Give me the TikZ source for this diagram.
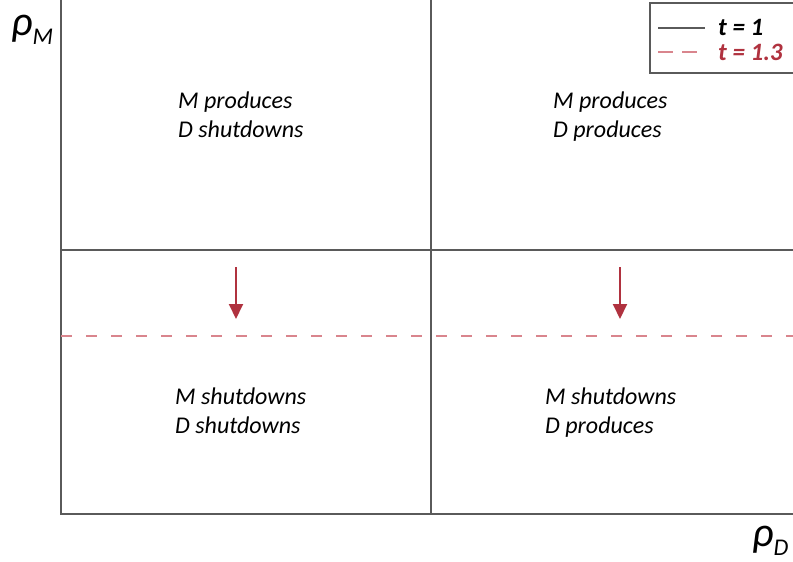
\documentclass[tikz,border=0pt]{standalone}
\usepackage{fontspec}
\setmainfont{Carlito}
\usetikzlibrary{arrows.meta}
\definecolor{axisgray}{HTML}{5A5A5A}
\definecolor{arrred}{HTML}{B0323F}
\definecolor{dashred}{HTML}{D9858D}
\begin{document}
\begin{tikzpicture}[x=1pt,y=-1pt,
  axisline/.style={draw=axisgray,line width=2pt},
  gridline/.style={draw=axisgray,line width=1.5pt},
  dashline/.style={draw=dashred,line width=2pt,dash pattern=on 11pt off 14pt},
  region/.style={font=\fontsize{24}{29}\selectfont\itshape,align=left,anchor=north west,inner sep=0pt},
  shiftarrow/.style={draw=arrred,line width=2pt,-{Triangle[length=15pt,width=14pt]}},
  axislabel/.style={font=\fontsize{42}{42}\selectfont\itshape,inner sep=0pt,anchor=base west},
  legtext/.style={font=\fontsize{25}{25}\selectfont\bfseries\itshape,anchor=west,inner sep=0pt}]
\useasboundingbox (0,0) rectangle (793,562);
% axes
\coordinate (O) at (61,514);
\coordinate (Ytop) at (61,0);
\coordinate (Xend) at (793,514);
\draw[axisline] (Ytop) -- (O) -- (Xend);
% grid lines
\coordinate (Vtop) at (431,0);
\coordinate (Vbot) at (431,514);
\draw[gridline] (Vtop) -- (Vbot);
\coordinate (Hl) at (61,250);
\coordinate (Hr) at (793,250);
\draw[gridline] (Hl) -- (Hr);
\coordinate (Dl) at (61,336);
\coordinate (Dr) at (793,336);
\draw[dashline] (Dl) -- (Dr);
% arrows
\coordinate (A1s) at (236,267);
\coordinate (A1e) at (236,319);
\coordinate (A2s) at (620,267);
\coordinate (A2e) at (620,319);
\draw[shiftarrow] (A1s) -- (A1e);
\draw[shiftarrow] (A2s) -- (A2e);
% region labels
\node[region] (r1) at (178,92) {M produces\\D shutdowns};
\node[region] (r2) at (553,92) {M produces\\D produces};
\node[region] (r3) at (175,388) {M shutdowns\\D shutdowns};
\node[region] (r4) at (545,388) {M shutdowns\\D produces};
% axis labels
\node[axislabel] (ym) at (11,35) {ρ\raisebox{-9pt}{\fontsize{24}{24}\selectfont M}};
\node[axislabel] (xd) at (752,546) {ρ\raisebox{-9pt}{\fontsize{24}{24}\selectfont D}};
% legend
\node[draw=axisgray,line width=2pt,minimum width=144pt,minimum height=70pt,anchor=north west,inner sep=0pt] (leg) at (649,2) {};
\coordinate (L1a) at (658,28);
\coordinate (L1b) at (705,28);
\draw[draw=axisgray,line width=1.5pt] (L1a) -- (L1b);
\coordinate (L2a) at (658,52);
\coordinate (L2b) at (705,52);
\draw[draw=dashred,line width=2pt,dash pattern=on 15pt off 9pt] (L2a) -- (L2b);
\node[legtext] (lt1) at (718,27) {t = 1};
\node[legtext,text=arrred] (lt2) at (718,52) {t = 1.3};
\end{tikzpicture}
\end{document}
